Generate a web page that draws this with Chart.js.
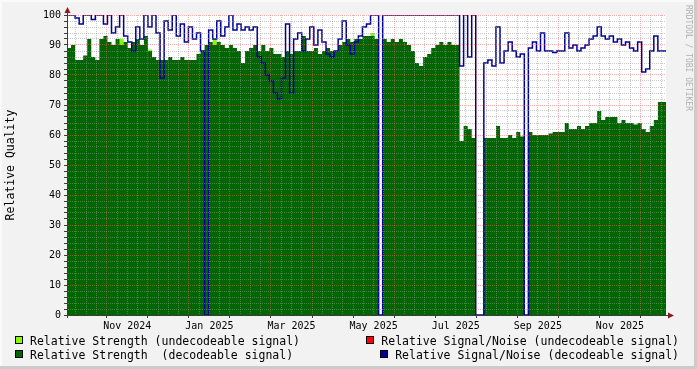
<!DOCTYPE html>
<html>
<head>
<meta charset="utf-8">
<script src="https://cdn.jsdelivr.net/npm/chart.js@4.4.1/dist/chart.umd.min.js"></script>
<style>
  html, body { margin: 0; padding: 0; background: #f2f2f2; }
  #wrap { width: 697px; height: 369px; }
</style>
</head>
<body>
<div id="wrap"><canvas id="qualityChart" width="697" height="369"></canvas></div>
<script>
// one sample every 2.76 days, first sample at day 0
const sampleDays = 2.76;

const strengthDecodeable = [
  85.5, 89, 90, 85, 85, 86.5, 92, 86, 85, 92,
  93, 91, 90, 92, 90, 91, 89, 91, 92, 90,
  93, 88, 86, 85, 85, 85, 86, 85, 85, 86,
  85, 85, 85, 87, 88, 90, 91, 90, 91, 90,
  89, 90, 89, 88, 84, 88, 89, 90, 88, 90,
  88, 89, 87, 87, 86, 88, 87, 88, 88, 93,
  88, 88, 89, 87, 88, 89, 88, 88, 90, 91,
  92, 91, 92, 92, 93, 93, 93, 92, 0, 92,
  91, 92, 91, 92, 91, 90, 88, 84, 83, 86,
  87, 89, 90, 91, 90, 91, 90, 90, 58, 63,
  62, 59, 0, 0, 59, 59, 59, 63, 59, 59,
  60, 59, 61, 59.5, 0, 61, 60, 60, 60, 60,
  60.5, 61, 61, 61, 64, 62, 62, 63, 62, 63,
  64, 64, 68, 65, 66, 66, 66, 64, 65, 64,
  64, 63.5, 64, 62, 61, 63, 65, 71
];

const snrDecodeable = [
  100, 100, 100, 99, 97, 100, 100, 98.5, 100, 100,
  97, 100, 94, 96, 100, 93, 91, 88, 96, 92,
  100, 96, 100, 94, 79, 98, 95, 100, 93, 97,
  91, 96, 92, 94, 88, 0, 95, 92, 98, 93,
  96, 100, 95, 97, 95, 96, 95, 96, 86, 84,
  80, 78, 74, 72, 79, 97, 74, 92, 94, 88,
  92, 96, 90, 95, 91, 87, 86, 88, 92, 98,
  90, 87, 91, 93, 96, 97, 100, 100, 0, 100,
  100, 100, 100, 100, 100, 100, 100, 100, 100, 100,
  100, 100, 100, 100, 100, 100, 100, 100, 83, 100,
  86, 100, 0, 0, 84, 85, 83, 96, 84, 88,
  91, 88, 86, 87, 0, 89, 91, 88, 94, 88,
  88, 87.5, 88, 88, 94, 89, 90, 88, 89, 90,
  92, 93, 96, 93, 92, 93, 91, 92, 90, 91,
  89, 88, 91, 81, 82, 88, 93, 88
];

// the few samples where the undecodeable strength peeks above the decodeable one
const undecodeableSamples = [14, 21, 37, 76];
const strengthUndecodeable = [92, 88.5, 92, 94];

// x axis: days; grid every week, major every 4 weeks, label every 8 weeks
const xMax = 408.5;
const firstMajorDay = 27.1;
const labelDays = [41.1, 97.1, 153.1, 209.1, 265.1, 321.1, 377.1];
const labelTexts = ['Nov 2024', 'Jan 2025', 'Mar 2025', 'May 2025', 'Jul 2025', 'Sep 2025', 'Nov 2025'];

const legendLabels = [
  'Relative Strength (undecodeable signal)',
  'Relative Strength  (decodeable signal)',
  'Relative Signal/Noise (undecodeable signal)',
  'Relative Signal/Noise (decodeable signal)'
];
const legendColors = ['#7fff00', '#006600', '#ff0000', '#000099'];

const mono = 'DejaVu Sans Mono';
const axisColor = '#3c3c3c';
const minorGrid = 'rgba(150,150,150,0.5)';
const majorGrid = 'rgba(255,90,90,0.5)';

function toPoints(values) {
  const pts = values.map((v, i) => ({ x: i * sampleDays, y: v }));
  pts.push({ x: xMax, y: values[values.length - 1] });
  return pts;
}

const undecodeableFull = strengthDecodeable.map((_, i) => {
  const k = undecodeableSamples.indexOf(i);
  return k >= 0 ? strengthUndecodeable[k] : 0;
});

const rrdFrame = {
  id: 'rrdFrame',
  beforeDraw(chart) {
    const { ctx, chartArea: a } = chart;
    ctx.save();
    ctx.fillStyle = '#f2f2f2';
    ctx.fillRect(0, 0, 697, 369);
    ctx.fillStyle = '#fafafa';
    ctx.fillRect(0, 0, 697, 2);
    ctx.fillRect(0, 0, 2, 369);
    ctx.fillStyle = '#cbcbcb';
    ctx.fillRect(0, 366, 697, 3);
    ctx.fillRect(694, 0, 3, 369);
    ctx.fillStyle = '#ffffff';
    ctx.fillRect(a.left, a.top, a.right - a.left, a.bottom - a.top);
    ctx.restore();
  },
  afterDraw(chart) {
    const { ctx, chartArea: a } = chart;
    ctx.save();
    // axis extensions and arrows
    ctx.strokeStyle = axisColor;
    ctx.lineWidth = 1;
    ctx.beginPath();
    ctx.moveTo(a.left + 0.5, a.top);
    ctx.lineTo(a.left + 0.5, a.top - 4);
    ctx.moveTo(a.right, a.bottom + 0.5);
    ctx.lineTo(a.right + 4, a.bottom + 0.5);
    ctx.moveTo(a.left + 0.5, a.bottom);
    ctx.lineTo(a.left + 0.5, a.bottom + 3);
    ctx.stroke();
    ctx.fillStyle = '#8b1a1a';
    ctx.beginPath();
    ctx.moveTo(a.left - 2.5, a.top - 2);
    ctx.lineTo(a.left + 3.5, a.top - 2);
    ctx.lineTo(a.left + 0.5, a.top - 8);
    ctx.closePath();
    ctx.fill();
    ctx.beginPath();
    ctx.moveTo(a.right + 2, a.bottom - 2.5);
    ctx.lineTo(a.right + 2, a.bottom + 3.5);
    ctx.lineTo(a.right + 8, a.bottom + 0.5);
    ctx.closePath();
    ctx.fill();

    // watermark
    ctx.save();
    ctx.translate(685.5, 5);
    ctx.rotate(Math.PI / 2);
    ctx.font = '8px "' + mono + '"';
    ctx.fillStyle = '#b0b0b0';
    ctx.textBaseline = 'alphabetic';
    ctx.fillText('RRDTOOL / TOBI OETIKER', 0, 0);
    ctx.restore();

    // legend
    ctx.font = '11.5px "' + mono + '"';
    ctx.textBaseline = 'alphabetic';
    ctx.fillStyle = '#000';
    const rows = [344.7, 358.5];
    const boxes = [];
    // left column
    [0, 1].forEach(j => {
      ctx.fillStyle = '#000';
      ctx.fillText(legendLabels[j], 30, rows[j]);
      boxes.push([15, rows[j] - 8.5, legendColors[j]]);
    });
    // right column, right aligned
    [2, 3].forEach((j, r) => {
      const w = ctx.measureText(legendLabels[j]).width;
      const x = 679 - w;
      ctx.fillStyle = '#000';
      ctx.fillText(legendLabels[j], x, rows[r]);
      boxes.push([x - 15, rows[r] - 8.5, legendColors[j]]);
    });
    boxes.forEach(([x, y, c]) => {
      ctx.fillStyle = c;
      ctx.fillRect(Math.round(x), Math.round(y), 8, 8);
      ctx.strokeStyle = '#000';
      ctx.lineWidth = 1;
      ctx.strokeRect(Math.round(x) + 0.5, Math.round(y) + 0.5, 7, 7);
    });
    ctx.restore();
  }
};

const ctx = document.getElementById('qualityChart').getContext('2d');

new Chart(ctx, {
  type: 'line',
  data: {
    datasets: [
      {
        label: 'Relative Signal/Noise (decodeable signal)',
        data: toPoints(snrDecodeable),
        borderColor: '#000099',
        borderWidth: 1.5,
        fill: false,
        stepped: 'after',
        pointRadius: 0,
        order: 0
      },
      {
        label: 'Relative Strength  (decodeable signal)',
        data: toPoints(strengthDecodeable),
        borderWidth: 0,
        backgroundColor: '#006600',
        fill: 'origin',
        stepped: 'after',
        pointRadius: 0,
        order: 1
      },
      {
        label: 'Relative Strength (undecodeable signal)',
        data: toPoints(undecodeableFull),
        borderWidth: 0,
        backgroundColor: '#7fff00',
        fill: 'origin',
        stepped: 'after',
        pointRadius: 0,
        order: 2
      }
    ]
  },
  options: {
    responsive: false,
    animation: false,
    events: [],
    layout: { autoPadding: false, padding: { left: 0, top: 15, right: 31, bottom: 29 } },
    plugins: { legend: { display: false }, tooltip: { enabled: false } },
    scales: {
      x: {
        type: 'linear',
        min: 0,
        max: xMax,
        afterFit: s => { s.height = 25; },
        afterBuildTicks: s => {
          const ticks = [];
          for (let k = -3; firstMajorDay + 7 * k <= xMax; k++) {
            ticks.push({ value: firstMajorDay + 7 * k, kind: k % 4 === 0 ? 'major' : 'minor' });
          }
          labelDays.forEach((d, j) => ticks.push({ value: d, kind: 'label', text: labelTexts[j] }));
          s.ticks = ticks;
        },
        ticks: {
          autoSkip: false,
          maxRotation: 0,
          minRotation: 0,
          padding: 2,
          color: '#000',
          font: { family: mono, size: 10 },
          callback: (v, i, t) => t[i].kind === 'label' ? t[i].text : ''
        },
        grid: {
          z: 1,
          lineWidth: 1,
          tickLength: 3,
          color: c => c.tick.kind === 'major' ? majorGrid : (c.tick.kind === 'minor' ? minorGrid : 'rgba(0,0,0,0)'),
          tickColor: c => c.tick.kind === 'major' ? axisColor : 'rgba(0,0,0,0)'
        },
        border: { color: axisColor, width: 1, dash: [1, 1], z: 2 }
      },
      y: {
        min: 0,
        max: 100,
        afterFit: s => { s.width = 67; },
        ticks: {
          stepSize: 2,
          autoSkip: false,
          padding: 3,
          color: '#000',
          font: { family: mono, size: 10 },
          callback: v => v % 10 === 0 ? String(v) : ''
        },
        grid: {
          z: 1,
          lineWidth: 1,
          tickLength: 3,
          color: c => c.tick.value % 10 === 0 ? majorGrid : minorGrid,
          tickColor: axisColor
        },
        border: { color: axisColor, width: 1, dash: [1, 1], z: 2 },
        title: {
          display: true,
          text: 'Relative Quality',
          color: '#000',
          font: { family: mono, size: 11.5 },
          padding: { top: 4.6, bottom: 0 }
        }
      }
    }
  },
  plugins: [rrdFrame]
});
</script>
</body>
</html>
